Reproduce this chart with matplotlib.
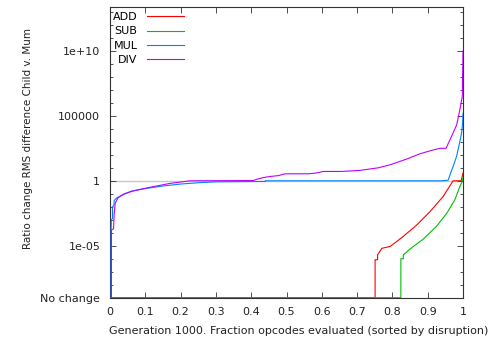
import matplotlib
matplotlib.use('Agg')
from matplotlib import pyplot as plt
from matplotlib.ticker import FixedLocator, FixedFormatter
import numpy as np

plt.rcParams['font.family'] = 'DejaVu Sans'
plt.rcParams['font.size'] = 8

NO_CHANGE = 1e-9

# sorted ratio curves, x = fraction of opcodes, y = log10(ratio)
add_x = [0, 0.751, 0.751, 0.758, 0.758, 0.77, 0.794, 0.83, 0.869, 0.907, 0.944, 0.972, 0.995, 1.0]
add_y = [-9, -9, -6.08, -6.08, -5.7, -5.2, -5.05, -4.3, -3.4, -2.36, -1.2, 0, 0, 0.6]

sub_x = [0, 0.824, 0.824, 0.831, 0.831, 0.85, 0.887, 0.925, 0.954, 0.977, 0.991, 0.999, 1.0]
sub_y = [-9, -9, -6.0, -6.0, -5.7, -5.25, -4.5, -3.5, -2.5, -1.46, -0.44, 0, 0.3]

mul_x = [0, 0.003, 0.003, 0.004, 0.007, 0.007, 0.011, 0.012, 0.02, 0.035, 0.06, 0.1, 0.15,
         0.2, 0.25, 0.3, 0.44, 0.44, 0.94, 0.958, 0.965, 0.972, 0.982, 0.991, 0.996, 0.999, 1.0]
mul_y = [-9, -9, -3.9, -3.0, -2.9, -2.0, -1.9, -1.5, -1.3, -1.1, -0.8, -0.6, -0.4,
         -0.25, -0.15, -0.08, -0.05, 0, 0, 0.05, 0.6, 1.1, 1.9, 3.0, 3.7, 4.5, 5.2]

div_x = [0, 0.004, 0.004, 0.01, 0.012, 0.015, 0.023, 0.04, 0.07, 0.113, 0.17, 0.227, 0.406,
         0.416, 0.435, 0.453, 0.477, 0.496, 0.562, 0.585, 0.604, 0.656, 0.708, 0.76, 0.793,
         0.84, 0.878, 0.916, 0.935, 0.952, 0.963, 0.982, 0.991, 0.998, 1.0]
div_y = [-9, -9, -3.8, -3.7, -2.5, -1.7, -1.3, -1.0, -0.75, -0.5, -0.2, 0, 0.02,
         0.12, 0.25, 0.33, 0.4, 0.54, 0.54, 0.6, 0.72, 0.72, 0.8, 1.0, 1.23,
         1.67, 2.08, 2.38, 2.5, 2.5, 3.15, 4.3, 5.46, 6.5, 10.0]

x_ticks = [0, 0.1, 0.2, 0.3, 0.4, 0.5, 0.6, 0.7, 0.8, 0.9, 1]
x_labels = ['0', '0.1', '0.2', '0.3', '0.4', '0.5', '0.6', '0.7', '0.8', '0.9', '1']
y_ticks = [NO_CHANGE, 1e-5, 1, 1e5, 1e10]
y_labels = ['No change', '1e-05', '1', '100000', '1e+10']

fig = plt.figure(figsize=(4.88, 3.39), dpi=100)
ax = fig.add_axes([110 / 488, 1 - 297.7 / 339, 353 / 488, 290.7 / 339])

ax.plot([0, 1], [1, 1], color='#c8c8c8', lw=1, zorder=1)
ax.plot(add_x, 10.0 ** np.array(add_y), color='#ff0000', lw=0.8, label='ADD', zorder=2)
ax.plot(sub_x, 10.0 ** np.array(sub_y), color='#00c000', lw=0.8, label='SUB', zorder=2)
ax.plot(mul_x, 10.0 ** np.array(mul_y), color='#0080ff', lw=0.8, label='MUL', zorder=3)
ax.plot(div_x, 10.0 ** np.array(div_y), color='#c000ff', lw=0.8, label='DIV', zorder=4)

ax.set_yscale('log')
ax.set_xlim(0, 1)
ax.set_ylim(NO_CHANGE, 10 ** 13.38)
ax.xaxis.set_major_locator(FixedLocator(x_ticks))
ax.xaxis.set_major_formatter(FixedFormatter(x_labels))
ax.yaxis.set_major_locator(FixedLocator(y_ticks))
ax.yaxis.set_major_formatter(FixedFormatter(y_labels))
ax.yaxis.set_minor_locator(FixedLocator([10.0 ** k for k in range(-9, 14)]))
ax.yaxis.set_minor_formatter(FixedFormatter([]))
ax.tick_params(which='both', direction='in', top=True, right=True, colors='#333333',
               labelcolor='#222222', width=0.6)
ax.tick_params(which='major', length=4.5, pad=7)
ax.tick_params(which='minor', length=2.5)
for s in ax.spines.values():
    s.set_color('#333333')
    s.set_linewidth(0.8)

ax.set_ylabel('Ratio change RMS difference Child v. Mum', color='#222222', fontsize=7.5)
ax.yaxis.set_label_coords(-0.218, 0.549)
ax.set_xlabel('Generation 1000. Fraction opcodes evaluated (sorted by disruption)', color='#222222')
ax.xaxis.set_label_coords((299 - 110) / 353, -0.097)

ax.legend(loc='upper left', bbox_to_anchor=(0.008, 0.982), frameon=False, markerfirst=False,
          handlelength=3.25, handletextpad=0.9, labelspacing=0.38, borderpad=0, borderaxespad=0)

fig.savefig('out.png', dpi=100)
